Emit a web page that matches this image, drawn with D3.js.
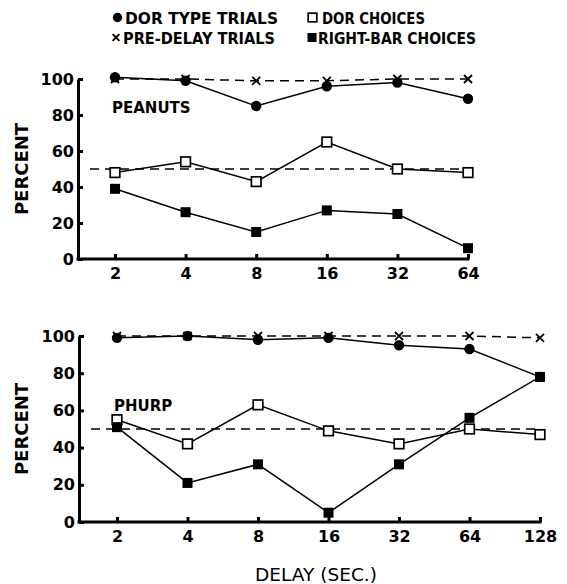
<!DOCTYPE html>
<html>
<head>
<meta charset="utf-8">
<script src="https://cdn.jsdelivr.net/npm/d3@7"></script>
<style>
  body { margin: 0; background: #fff; }
  svg text { font-family: "DejaVu Sans", "Liberation Sans", sans-serif; font-weight: bold; fill: #000; }
</style>
</head>
<body>
<div id="chart"></div>
<script>
// Werte
const delaysTop = ["2", "4", "8", "16", "32", "64"];
const delaysBottom = ["2", "4", "8", "16", "32", "64", "128"];
const yTicks = [0, 20, 40, 60, 80, 100];

const peanutsDorType = [101, 99, 85, 96, 98, 89];
const peanutsPreDelay = [100, 100, 99, 99, 100, 100];
const peanutsDorChoice = [48, 54, 43, 65, 50, 48];
const peanutsRightBar = [39, 26, 15, 27, 25, 6];

const phurpDorType = [99, 100, 98, 99, 95, 93, 78];
const phurpPreDelay = [100, 100, 100, 100, 100, 100, 99];
const phurpDorChoice = [55, 42, 63, 49, 42, 50, 47];
const phurpRightBar = [51, 21, 31, 5, 31, 56, 78];

const chanceLevel = 50;

const legendItems = [
    { label: "DOR TYPE TRIALS", symbol: "circle" },
    { label: "DOR CHOICES", symbol: "openSquare" },
    { label: "PRE-DELAY TRIALS", symbol: "cross" },
    { label: "RIGHT-BAR CHOICES", symbol: "square" }
];

const width = 567, height = 584;
const svg = d3.select("#chart").append("svg")
    .attr("width", width)
    .attr("height", height);

// Symbol zeichnen
function drawSymbol(g, type, cx, cy, s = 1) {
    if (type === "circle") {
        g.append("circle").attr("cx", cx).attr("cy", cy).attr("r", 5.2 * s).attr("fill", "#000");
    } else if (type === "openSquare") {
        const h = 4.8 * s;
        g.append("rect").attr("x", cx - h).attr("y", cy - h).attr("width", 2 * h).attr("height", 2 * h)
            .attr("fill", "#fff").attr("stroke", "#000").attr("stroke-width", 1.7);
    } else if (type === "square") {
        const h = 5 * s;
        g.append("rect").attr("x", cx - h).attr("y", cy - h).attr("width", 2 * h).attr("height", 2 * h)
            .attr("fill", "#000");
    } else if (type === "cross") {
        const h = 4 * s;
        g.append("path")
            .attr("d", `M${cx - h},${cy - h}L${cx + h},${cy + h}M${cx - h},${cy + h}L${cx + h},${cy - h}`)
            .attr("stroke", "#000").attr("stroke-width", 1.8);
    }
}

// Legende
const legendLayout = [
    { sx: 117.5, sy: 17.5, tx: 125, len: 153 },
    { sx: 312.5, sy: 17.5, tx: 322, len: 103 },
    { sx: 116, sy: 37.5, tx: 123, len: 152 },
    { sx: 312, sy: 37.5, tx: 318, len: 158 }
];
const legend = svg.append("g");
legendItems.forEach((d, i) => {
    const p = legendLayout[i];
    drawSymbol(legend, d.symbol, p.sx, p.sy, d.symbol === "cross" ? 0.85 : 0.9);
    legend.append("text")
        .attr("x", p.tx)
        .attr("y", p.sy + 6)
        .attr("textLength", p.len)
        .attr("lengthAdjust", "spacingAndGlyphs")
        .style("font-size", "15px")
        .text(d.label);
});

function drawPanel(cfg) {
    const x = d3.scalePoint()
        .domain(cfg.delays)
        .range(cfg.xRange);

    const y = d3.scaleLinear()
        .domain([0, 100])
        .range(cfg.yRange);

    const g = svg.append("g");
    const axisX = cfg.axisX;

    // y-Achse
    const yAxis = g.append("g")
        .attr("transform", `translate(${axisX},0)`)
        .call(d3.axisLeft(y).tickValues(yTicks).tickSizeInner(-5).tickSizeOuter(0).tickPadding(4));
    yAxis.select(".domain").attr("stroke-width", 3);
    yAxis.selectAll(".tick line").attr("stroke-width", 3);
    yAxis.selectAll("text").style("font-size", "16px");

    // x-Achse
    const xAxis = g.append("g")
        .attr("transform", `translate(0,${y(0)})`)
        .call(d3.axisBottom(x).tickSizeInner(-5).tickSizeOuter(0).tickPadding(9));
    xAxis.select(".domain").remove();
    xAxis.selectAll(".tick line").attr("stroke-width", 3);
    xAxis.selectAll("text").style("font-size", "16px");
    const last = cfg.delays[cfg.delays.length - 1];
    g.append("line")
        .attr("x1", axisX - 1.5).attr("x2", x(last) + 1.5)
        .attr("y1", y(0)).attr("y2", y(0))
        .attr("stroke", "#000").attr("stroke-width", 3);

    // Zufallsniveau 50 %
    g.append("line")
        .attr("x1", axisX + 12).attr("x2", x(last))
        .attr("y1", y(chanceLevel)).attr("y2", y(chanceLevel))
        .attr("stroke", "#000").attr("stroke-width", 1.5)
        .attr("stroke-dasharray", "9,6");

    const line = d3.line()
        .x((d, i) => x(cfg.delays[i]))
        .y(d => y(d));

    // Pre-delay: gestrichelt mit Kreuzen
    g.append("path")
        .datum(cfg.preDelay)
        .attr("d", line)
        .attr("fill", "none")
        .attr("stroke", "#000").attr("stroke-width", 1.5)
        .attr("stroke-dasharray", "9,6");

    [cfg.dorType, cfg.dorChoice, cfg.rightBar].forEach(series => {
        g.append("path")
            .datum(series)
            .attr("d", line)
            .attr("fill", "none")
            .attr("stroke", "#000").attr("stroke-width", 1.5);
    });

    const marks = g.append("g");
    cfg.preDelay.forEach((v, i) => drawSymbol(marks, "cross", x(cfg.delays[i]), y(v)));
    cfg.dorType.forEach((v, i) => drawSymbol(marks, "circle", x(cfg.delays[i]), y(v)));
    cfg.dorChoice.forEach((v, i) => drawSymbol(marks, "openSquare", x(cfg.delays[i]), y(v)));
    cfg.rightBar.forEach((v, i) => drawSymbol(marks, "square", x(cfg.delays[i]), y(v)));

    // Beschriftungen
    g.append("text")
        .attr("x", cfg.nameX).attr("y", cfg.nameY)
        .style("font-size", "15px")
        .text(cfg.name);

    g.append("text")
        .attr("transform", `translate(28,${(cfg.yRange[0] + cfg.yRange[1]) / 2}) rotate(-90)`)
        .attr("text-anchor", "middle")
        .style("font-size", "18px")
        .text("PERCENT");
}

drawPanel({
    name: "PEANUTS", nameX: 112, nameY: 113,
    delays: delaysTop, xRange: [115, 468], yRange: [259, 79], axisX: 78,
    dorType: peanutsDorType, preDelay: peanutsPreDelay,
    dorChoice: peanutsDorChoice, rightBar: peanutsRightBar
});

drawPanel({
    name: "PHURP", nameX: 114, nameY: 411,
    delays: delaysBottom, xRange: [117, 540], yRange: [522, 336], axisX: 79,
    dorType: phurpDorType, preDelay: phurpPreDelay,
    dorChoice: phurpDorChoice, rightBar: phurpRightBar
});

svg.append("text")
    .attr("x", 316).attr("y", 581)
    .attr("text-anchor", "middle")
    .attr("textLength", 122)
    .attr("lengthAdjust", "spacingAndGlyphs")
    .style("font-size", "17px")
    .style("font-weight", "normal")
    .text("DELAY (SEC.)");
</script>
</body>
</html>
